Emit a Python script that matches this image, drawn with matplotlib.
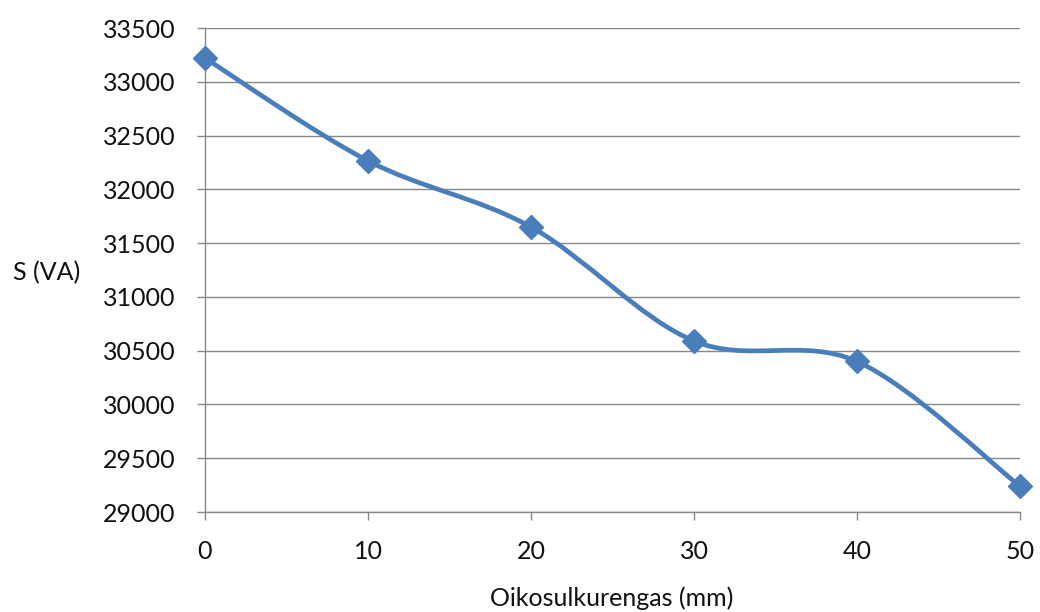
import numpy as np
import matplotlib
matplotlib.use("Agg")
from matplotlib import pyplot as plt
from matplotlib.path import Path
from matplotlib.patches import PathPatch

# Datos
rengas_mm = [0, 10, 20, 30, 40, 50]
s_va = [33220, 32265, 31650, 30590, 30400, 29240]

y_ticks = list(range(29000, 33501, 500))
x_ticks = [0, 10, 20, 30, 40, 50]

blue = '#4A7EBB'
grey = '#878787'
fs = 18

plt.rcParams['font.family'] = ['Lato', 'DejaVu Sans']

fig = plt.figure(figsize=(10.4, 6.12), dpi=100)
ax = fig.add_axes([205/1040, 1 - 512/612, 815/1040, 484/612])


def smooth_path(x, y, t=1/6):
    # curva suavizada tipo Excel (Bezier con puntos de control Catmull-Rom)
    x = np.asarray(x, float)
    y = np.asarray(y, float)
    n = len(x)
    verts = [(x[0], y[0])]
    codes = [Path.MOVETO]
    for i in range(n - 1):
        i0 = max(i - 1, 0)
        i3 = min(i + 2, n - 1)
        c1 = (x[i] + (x[i + 1] - x[i0]) * t, y[i] + (y[i + 1] - y[i0]) * t)
        c2 = (x[i + 1] - (x[i3] - x[i]) * t, y[i + 1] - (y[i3] - y[i]) * t)
        verts += [c1, c2, (x[i + 1], y[i + 1])]
        codes += [Path.CURVE4] * 3
    return Path(verts, codes)


ax.add_patch(PathPatch(smooth_path(rengas_mm, s_va), facecolor='none',
                       edgecolor=blue, linewidth=3.4, capstyle='round',
                       joinstyle='round', zorder=3))
ax.plot(rengas_mm, s_va, linestyle='none', marker='D', markersize=12.5,
        color=blue, clip_on=False, zorder=4)

ax.set_xlim(0, 50)
ax.set_ylim(29000, 33500)
ax.set_xticks(x_ticks)
ax.set_yticks(y_ticks)
ax.grid(axis='y', color=grey, linewidth=1)
ax.set_axisbelow(True)

for side in ['top', 'right']:
    ax.spines[side].set_visible(False)
for side in ['left', 'bottom']:
    ax.spines[side].set_color(grey)
    ax.spines[side].set_linewidth(1)

ax.tick_params(direction='out', length=6, width=1, color=grey,
               labelsize=fs, labelcolor='#111111')
ax.tick_params(axis='x', pad=14)
ax.tick_params(axis='y', pad=15)

fig.text(13/1040, 1 - 273/612, 'S (VA)', ha='left', va='center',
         fontsize=fs, color='#111111')
fig.text(612/1040, 1 - 606/612, 'Oikosulkurengas (mm)', ha='center',
         va='baseline', fontsize=fs, color='#111111')

fig.savefig('out.png', dpi=100)
